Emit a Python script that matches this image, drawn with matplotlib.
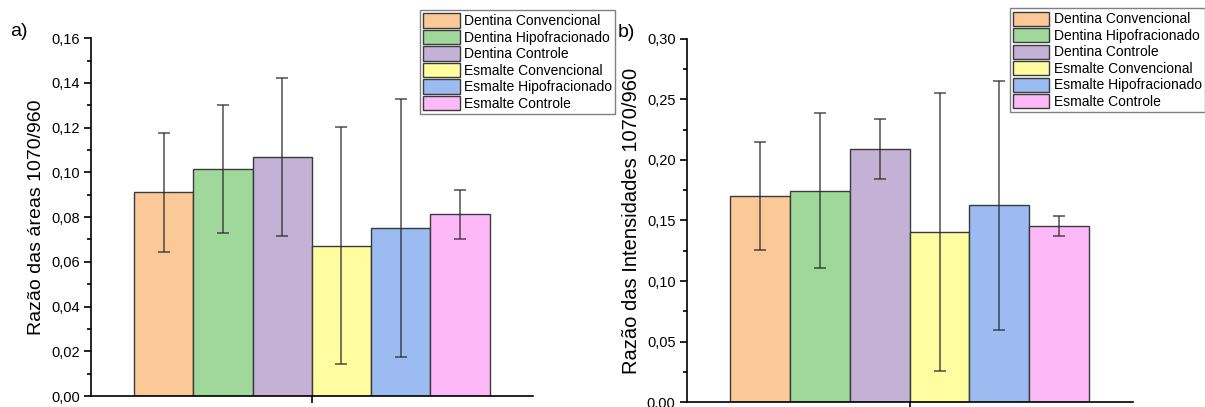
import matplotlib
matplotlib.use('Agg')
import matplotlib.pyplot as plt
from matplotlib.ticker import MultipleLocator, FuncFormatter
from matplotlib.patches import Patch
import numpy as np

plt.rcParams['font.family'] = ['Liberation Sans', 'DejaVu Sans']

groups = ['Dentina Convencional', 'Dentina Hipofracionado', 'Dentina Controle',
          'Esmalte Convencional', 'Esmalte Hipofracionado', 'Esmalte Controle']
colors = ['#FBC998', '#A0D89C', '#C3B2D6', '#FFFDA0', '#9BBBF1', '#FDB8F7']

# razao das areas 1070/960
areas = [0.0911, 0.1016, 0.1069, 0.0673, 0.0750, 0.0813]
areas_err = [0.0265, 0.0285, 0.0354, 0.0532, 0.0577, 0.0109]

# razao das intensidades 1070/960
intens = [0.1705, 0.1746, 0.2090, 0.1405, 0.1625, 0.1457]
intens_err = [0.0446, 0.0637, 0.0244, 0.1148, 0.1026, 0.0084]


def draw_panel(ax, vals, errs, ylim, major, ylabel, zero_label, lsize):
    x = np.arange(len(vals)) - 2.5
    ax.bar(x, vals, width=1.0, color=colors, edgecolor='#3a3a3a', linewidth=1.0, zorder=2)
    ax.errorbar(x, vals, yerr=errs, fmt='none', ecolor='#2a2a2a', alpha=0.7,
                elinewidth=1.3, capsize=4, capthick=1.3, zorder=3)
    ax.set_xlim(-3.73, 3.73)
    ax.set_ylim(0, ylim)
    ax.spines['top'].set_visible(False)
    ax.spines['right'].set_visible(False)
    for s in ['left', 'bottom']:
        ax.spines[s].set_linewidth(1.2)
    ax.set_xticks([0])
    ax.set_xticklabels([])
    ax.yaxis.set_major_locator(MultipleLocator(major))
    ax.yaxis.set_minor_locator(MultipleLocator(major / 2))

    def fmt(v, pos):
        if abs(v) < 1e-9:
            return zero_label
        return ('%.2f' % v).replace('.', ',')
    ax.yaxis.set_major_formatter(FuncFormatter(fmt))
    ax.tick_params(axis='y', which='major', length=5, width=1.2, labelsize=10.5, pad=3)
    ax.tick_params(axis='y', which='minor', length=3, width=1.2)
    ax.tick_params(axis='x', which='major', length=5, width=1.2)
    ax.set_ylabel(ylabel, fontsize=lsize, labelpad=4)


fig = plt.figure(figsize=(12.05, 4.07), dpi=100)
ax1 = fig.add_axes([0.0753, 0.027, 0.367, 0.879])
ax2 = fig.add_axes([0.5699, 0.0115, 0.370, 0.8935])

draw_panel(ax1, areas, areas_err, 0.16, 0.02, 'Razão das áreas 1070/960', '0,00', 14)
draw_panel(ax2, intens, intens_err, 0.30, 0.05, 'Razão das Intensidades 1070/960', '0.00', 14.5)

fig.text(0.008, 0.912, 'a)', fontsize=14)
fig.text(0.513, 0.91, 'b)', fontsize=14)

handles = [Patch(facecolor=c, edgecolor='#3a3a3a', linewidth=1.0) for c in colors]
for anchor in [(0.3485, 0.9754), (0.838, 0.980)]:
    leg = fig.legend(handles, groups, loc='upper left', bbox_to_anchor=anchor,
                     fontsize=10, frameon=True, fancybox=False, handlelength=2.6,
                     handleheight=1.2, handletextpad=0.3, labelspacing=0.12,
                     borderpad=0.25, borderaxespad=0)
    leg.get_frame().set_edgecolor('#606060')
    leg.get_frame().set_linewidth(1.0)

fig.savefig('out.png', dpi=100)
